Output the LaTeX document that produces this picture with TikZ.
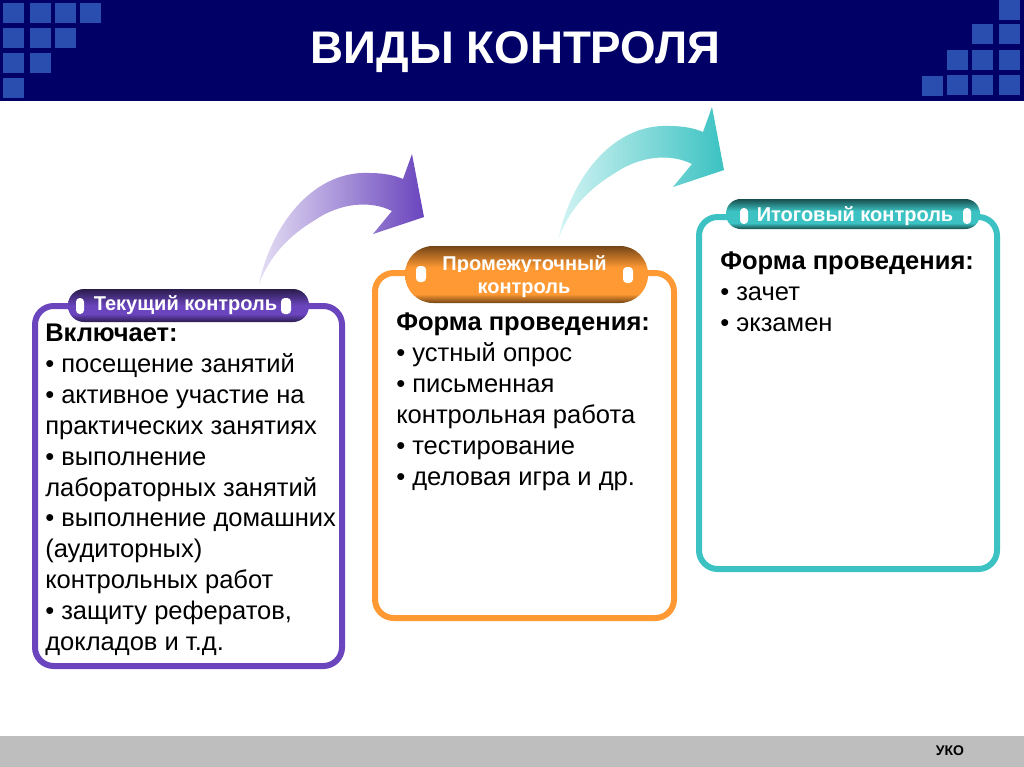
\documentclass[tikz,border=0pt]{standalone}
\usepackage{fontspec}
\setmainfont{Liberation Sans}
\definecolor{navy}{HTML}{000066}
\definecolor{tilec}{HTML}{2A4DB0}
\definecolor{barg}{HTML}{BEBEBE}
\definecolor{vio}{HTML}{6A45BD}
\definecolor{viol}{HTML}{E4DEF4}
\definecolor{ora}{HTML}{FF9933}
\definecolor{tea}{HTML}{3CC2C2}
\definecolor{teal2}{HTML}{D2F3F3}
\pgfdeclareverticalshading{viopill}{100bp}{color(0bp)=(black!60!vio); color(25bp)=(black!60!vio); color(37bp)=(vio); color(50bp)=(vio); color(75bp)=(black!60!vio); color(100bp)=(black!60!vio)}
\pgfdeclareverticalshading{orapill}{100bp}{color(0bp)=(black!55!ora); color(25bp)=(black!55!ora); color(33bp)=(ora); color(56bp)=(ora); color(75bp)=(black!55!ora); color(100bp)=(black!55!ora)}
\pgfdeclareverticalshading{teapill}{100bp}{color(0bp)=(black!60!tea); color(25bp)=(black!60!tea); color(35bp)=(tea); color(55bp)=(tea); color(75bp)=(black!60!tea); color(100bp)=(black!60!tea)}
\tikzset{
  cardbox/.style={line width=4.5pt,rounded corners=14pt,fill=white},
  pillbox/.style={draw=none},
  holebox/.style={fill=white,draw=none,rounded corners=2.8pt},
  tagtext/.style={text=white,font=\bfseries\fontsize{15}{18}\selectfont,align=center,inner sep=0pt},
  bodytext/.style={anchor=north west,align=left,inner sep=0pt,font=\fontsize{19.15}{23.2}\selectfont,text=black},
  sweep/.style={draw=none},
}
\newcommand{\sq}[2]{\fill[tilec] (#1,#2) rectangle ++(20.5,20);}
\newcommand{\bendarrow}[3]{%
  \path[sweep,left color=#2,right color=#3,shift={#1}]
    (259,284) .. controls (270,230) and (310,170) .. (370,173)
    .. controls (382,173) and (394,175) .. (403,179)
    -- (412,154) -- (424,217) -- (373,234) -- (392,211)
    .. controls (370,200) and (340,203) .. (315,220)
    .. controls (290,235) and (270,255) .. (259,284) -- cycle;}
\begin{document}
\begin{tikzpicture}[x=0.75pt,y=-0.75pt]
\useasboundingbox (0,0) rectangle (1024,767);
\fill[white] (0,0) rectangle (1024,767);
\fill[navy] (0,0) rectangle (1024,101);
\foreach \x/\y in {3/3,30/3,55/3,80/3,3/28,30/28,55/28,3/53,30/53,3/78}{\sq{\x}{\y}}
\foreach \x/\y in {999/0,999/24,999/50,999/75,972/24,972/50,972/75,947/50,947/75,922/76}{\sq{\x}{\y}}
\node[text=white,font=\bfseries\fontsize{34.3}{40}\selectfont,inner sep=0pt] (title) at (515.5,52) {ВИДЫ КОНТРОЛЯ};
\fill[barg] (0,736) rectangle (1024,767);
\node[font=\bfseries\fontsize{10.5}{12}\selectfont,inner sep=0pt] (uko) at (950,750.5) {УКО};
% arrows
\bendarrow{(0,0)}{viol}{vio}
\bendarrow{(300,-47)}{teal2}{tea}
% cards
\draw[cardbox,draw=vio] (35,306) rectangle (342,666);
\draw[cardbox,draw=ora] (375,273) rectangle (674,618);
\draw[cardbox,draw=tea] (699,217) rectangle (997,569);
% pills
\path[pillbox,shading=viopill,rounded corners=12pt] (68,289) rectangle (309,322);
\path[pillbox,shading=orapill,rounded corners=21pt] (405,246) rectangle (648,303);
\path[pillbox,shading=teapill,rounded corners=11pt] (726,199) rectangle (980,229);
% holes
\foreach \x/\y/\w in {80/306/8,286/306/10,421/274/10,628/275/10,744/216/8,967/216/8}{
  \fill[holebox] (\x-\w/2,\y-8) rectangle (\x+\w/2,\y+8);}
% tags
\node[tagtext] (t1) at (185.5,305) {Текущий контроль};
\begin{scope}
\clip (405,246) rectangle (648,271);
\node[tagtext] (t2a) at (524.5,265) {Промежуточный};
\end{scope}
\node[tagtext] (t2b) at (524,290) {контроль};
\node[tagtext] (t3) at (855,216) {Итоговый контроль};
% body
\node[bodytext] (b1) at (45,323.5) {\textbf{Включает:}\\• посещение занятий\\• активное участие на\\практических занятиях\\• выполнение\\лабораторных занятий\\• выполнение домашних\\(аудиторных)\\контрольных работ\\• защиту рефератов,\\докладов и т.д.};
\node[bodytext] (b2) at (396,312.5) {\textbf{Форма проведения:}\\• устный опрос\\• письменная\\контрольная работа\\• тестирование\\• деловая игра и др.};
\node[bodytext] (b3) at (720,251.5) {\textbf{Форма проведения:}\\• зачет\\• экзамен};
\end{tikzpicture}
\end{document}
